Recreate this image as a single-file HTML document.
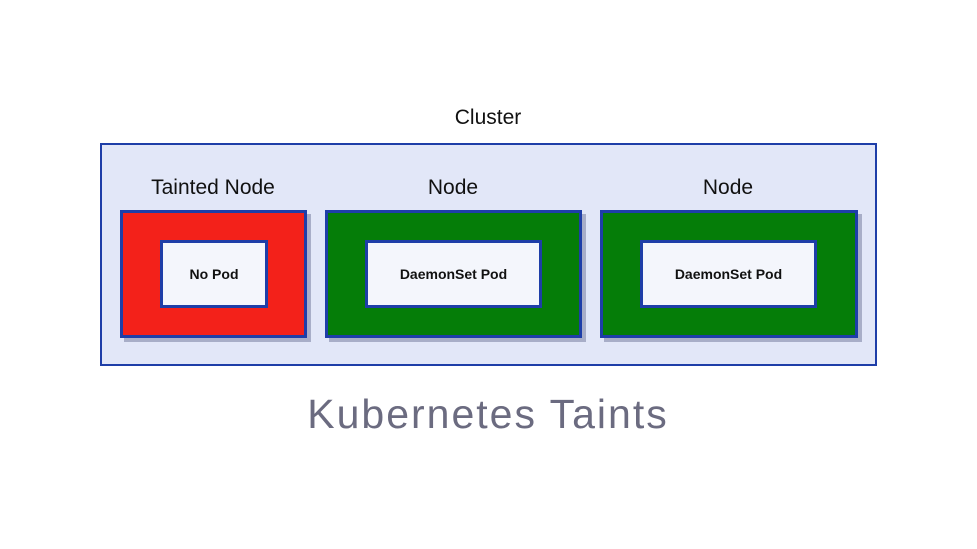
<!DOCTYPE html>
<html><head><style>
body{margin:0;width:977px;height:549px;background:#fff;position:relative;overflow:hidden;font-family:"Liberation Sans",sans-serif}
.a{position:absolute;box-sizing:border-box}
.cl{left:100px;top:143px;width:777px;height:223px;background:#e2e7f8;border:2px solid #1e3ea8}
.n{border:3px solid #1e3ea8;box-shadow:4px 4px 0 #a8aec8}
.p{background:#f4f6fc;border:3px solid #1e3ea8;display:flex;align-items:center;justify-content:center;font-size:14px;font-weight:bold;color:#111}
.t{font-size:21px;color:#111;text-align:center}
</style></head><body>
<div class="a t" style="left:388px;top:106px;width:200px">Cluster</div>
<div class="a cl"></div>
<div class="a t" style="left:113px;top:176px;width:200px">Tainted Node</div>
<div class="a t" style="left:353px;top:176px;width:200px">Node</div>
<div class="a t" style="left:628px;top:176px;width:200px">Node</div>
<div class="a n" style="left:120px;top:210px;width:187px;height:128px;background:#f3211a"></div>
<div class="a n" style="left:325px;top:210px;width:257px;height:128px;background:#057d08"></div>
<div class="a n" style="left:600px;top:210px;width:258px;height:128px;background:#057d08"></div>
<div class="a p" style="left:160px;top:240px;width:108px;height:68px">No Pod</div>
<div class="a p" style="left:365px;top:240px;width:177px;height:68px">DaemonSet Pod</div>
<div class="a p" style="left:640px;top:240px;width:177px;height:68px">DaemonSet Pod</div>
<div class="a" style="left:188px;top:391px;width:600px;text-align:center;font-size:41px;letter-spacing:2px;color:#6b6b80">Kubernetes Taints</div>
</body></html>
